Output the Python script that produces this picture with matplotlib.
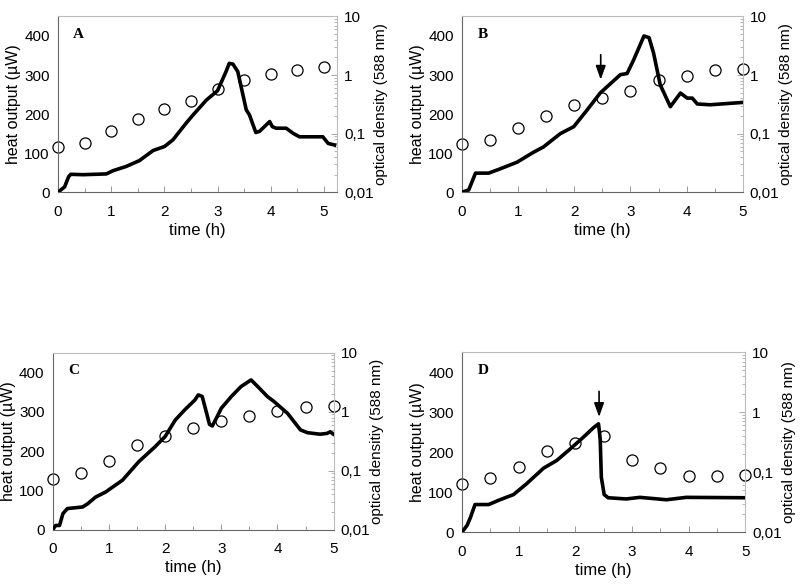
import numpy as np
import matplotlib
matplotlib.use("Agg")
import matplotlib.pyplot as plt
from matplotlib.ticker import FixedLocator, LogLocator, NullFormatter

plt.rcParams['font.family'] = ['Liberation Sans', 'DejaVu Sans']

# sampling times of optical density (h)
od_t = [0, 0.5, 1, 1.5, 2, 2.5, 3, 3.5, 4, 4.5, 5]

# panel A
heatA_t = [0, 0.125, 0.2, 0.24, 0.47, 0.91, 1.03, 1.28, 1.53, 1.79, 2.0, 2.16, 2.41,
           2.54, 2.79, 3.0, 3.16, 3.22, 3.29, 3.38, 3.54, 3.6, 3.72, 3.79, 3.98, 4.03,
           4.1, 4.29, 4.42, 4.54, 4.98, 5.08, 5.2]
heatA = [0, 14, 40, 46, 45, 47, 55, 66, 81, 107, 117, 134, 177,
         198, 236, 260, 309, 330, 328, 309, 211, 198, 153, 156, 181, 168,
         164, 164, 151, 142, 142, 125, 121]
odA = [0.059, 0.068, 0.11, 0.18, 0.26, 0.355, 0.58, 0.81, 1.05, 1.21, 1.36]

# panel B
heatB_t = [0, 0.12, 0.24, 0.475, 0.68, 0.98, 1.28, 1.45, 1.75, 1.99, 2.23, 2.46,
           2.82, 2.94, 3.06, 3.24, 3.33, 3.41, 3.53, 3.71, 3.89, 4.01, 4.1, 4.19,
           4.42, 5.0]
heatB = [0, 6, 49, 49, 60, 77, 103, 116, 150, 168, 211, 254,
         301, 304, 340, 400, 396, 357, 275, 219, 254, 241, 241, 226,
         224, 230]
odB = [0.066, 0.078, 0.126, 0.204, 0.314, 0.414, 0.544, 0.815, 0.967, 1.2, 1.29]

# panel C
heatC_t = [0, 0.05, 0.12, 0.18, 0.26, 0.53, 0.62, 0.76, 0.94, 1.24, 1.53, 1.82, 2.0,
           2.18, 2.35, 2.53, 2.59, 2.66, 2.74, 2.79, 2.84, 2.91, 3.0, 3.18, 3.35, 3.53,
           3.65, 3.82, 3.94, 4.18, 4.41, 4.53, 4.76, 4.88, 4.94, 5.0]
heatC = [0, 11, 11, 41, 54, 58, 66, 83, 96, 126, 173, 211, 237,
         279, 305, 330, 343, 339, 296, 268, 264, 283, 309, 339, 364, 381,
         364, 339, 326, 296, 254, 247, 243, 245, 249, 243]
odC = [0.073, 0.092, 0.145, 0.277, 0.384, 0.532, 0.709, 0.861, 1.02, 1.21, 1.24]

# panel D
heatD_t = [0, 0.09, 0.15, 0.23, 0.47, 0.67, 0.91, 1.14, 1.44, 1.67, 1.91, 2.14, 2.32,
           2.41, 2.44, 2.46, 2.51, 2.58, 2.9, 3.14, 3.61, 3.96, 5.0]
heatD = [0, 17, 37, 69, 69, 81, 94, 121, 160, 179, 208, 237, 261,
         271, 233, 137, 94, 86, 83, 87, 81, 87, 86]
odD = [0.0626, 0.081, 0.124, 0.225, 0.306, 0.397, 0.161, 0.119, 0.0875, 0.0875, 0.09]

panels = [
    ("A", [0.0725, 0.673, 0.349, 0.299], 5.25, heatA_t, heatA, odA, None, "optical density (588 nm)"),
    ("B", [0.5775, 0.673, 0.351, 0.299], 5.0, heatB_t, heatB, odB, 2.47, "optical density (588 nm)"),
    ("C", [0.066, 0.099, 0.351, 0.301], 5.0, heatC_t, heatC, odC, None, "optical densitiy (588 nm)"),
    ("D", [0.5775, 0.095, 0.354, 0.306], 5.0, heatD_t, heatD, odD, 2.42, "optical density (588 nm)"),
]

fig = plt.figure(figsize=(8, 5.88), dpi=100)
for name, pos, xmax, ht, hv, od, arrow_t, odlabel in panels:
    ax = fig.add_axes(pos)
    ax.plot(ht, hv, color="black", lw=2.6, zorder=3)
    ax.set_xlim(0, xmax)
    ax.set_ylim(0, 450)
    ax.set_xticks([0, 1, 2, 3, 4, 5])
    ax.xaxis.set_minor_locator(FixedLocator([0.5, 1.5, 2.5, 3.5, 4.5]))
    ax.set_yticks([0, 100, 200, 300, 400])
    ax.tick_params(axis="x", direction="in", length=4, width=0.6, color="#888888",
                   labelsize=11, pad=9)
    ax.tick_params(axis="x", which="minor", direction="in", length=3, width=0.6, color="#888888")
    ax.tick_params(axis="y", length=0, labelsize=11, pad=6)
    ax.set_xlabel("time (h)", fontsize=12, labelpad=3)
    ax.set_ylabel("heat output (\u00b5W)", fontsize=11.5, labelpad=2)
    for s in ["top", "right"]:
        ax.spines[s].set_color("#bbbbbb")
        ax.spines[s].set_linewidth(0.8)
    for s in ["left", "bottom"]:
        ax.spines[s].set_color("#666666")
        ax.spines[s].set_linewidth(0.8)
    ax.text(0.38, 405, name, family="Liberation Serif", fontweight="bold", fontsize=11,
            ha="center", va="center")
    if arrow_t is not None:
        ax.annotate("", xy=(arrow_t, 288), xytext=(arrow_t, 352),
                    arrowprops=dict(arrowstyle="-|>,head_length=0.7,head_width=0.25",
                                    color="black", lw=1.2, mutation_scale=12,
                                    shrinkA=0, shrinkB=0), zorder=4)

    ax2 = ax.twinx()
    ax2.set_yscale("log")
    ax2.set_ylim(0.01, 10)
    ax2.plot(od_t, od, "o", ms=8, mfc="white", mec="black", mew=0.9, zorder=5,
             clip_on=False)
    ax2.set_yticks([0.01, 0.1, 1, 10])
    ax2.set_yticklabels(["0,01", "0,1", "1", "10"])
    ax2.yaxis.set_minor_locator(LogLocator(base=10, subs=np.arange(2, 10)))
    ax2.yaxis.set_minor_formatter(NullFormatter())
    ax2.tick_params(axis="y", which="major", direction="in", length=4, width=0.6,
                    color="#999999", labelsize=11, pad=5)
    ax2.tick_params(axis="y", which="minor", direction="in", length=2, width=0.5,
                    color="#999999")
    ax2.set_ylabel(odlabel, fontsize=11, labelpad=0)
    for s in ax2.spines.values():
        s.set_visible(False)
    ax.set_zorder(ax2.get_zorder() + 1)
    ax.patch.set_visible(False)

fig.savefig("out.png", dpi=100)
